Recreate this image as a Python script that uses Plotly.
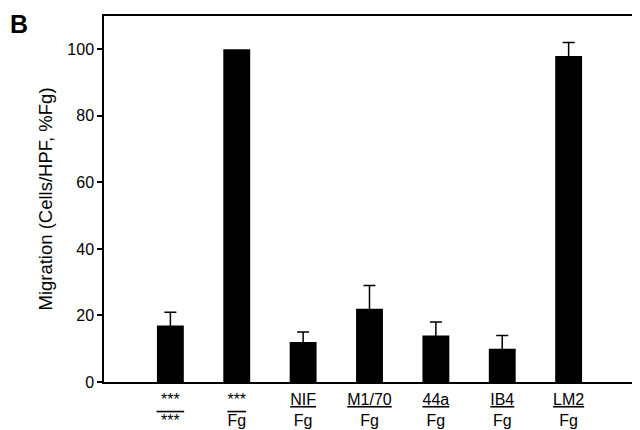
import plotly.graph_objects as go

# Migration toward fibrinogen, with blocking antibodies
labels = [
    "***<br><span style='text-decoration:overline'>&nbsp;***&nbsp;</span>",
    "***<br><span style='text-decoration:overline'>Fg</span>",
    "<u>NIF</u><br>Fg",
    "<u>M1/70</u><br>Fg",
    "<u>44a</u><br>Fg",
    "<u>IB4</u><br>Fg",
    "<u>LM2</u><br>Fg",
]
migration = [17, 100, 12, 22, 14, 10, 98]
sem = [4, None, 3, 7, 4, 4, 4]   # Fg control is the 100% reference, no error bar
positions = list(range(len(migration)))

font_name = "Liberation Sans, Arial, Helvetica, sans-serif"

# only the bars that have an error estimate
err_x = [p for p, s in zip(positions, sem) if s is not None]
err_y = [m for m, s in zip(migration, sem) if s is not None]
err_v = [s for s in sem if s is not None]

fig = go.Figure()
fig.add_trace(go.Bar(
    x=positions, y=migration, width=0.405,
    marker=dict(color="black", line=dict(width=0)),
))
fig.add_trace(go.Scatter(
    x=err_x, y=err_y, mode="markers",
    marker=dict(size=0.1, color="black", opacity=0),
    error_y=dict(type="data", array=err_v, symmetric=True,
                 color="black", thickness=1.5, width=6),
))

# page body adds an 8px offset, so the figure is a bit smaller than the window
fig.update_layout(
    width=632, height=422,
    margin=dict(l=96, r=3, t=8, b=48),
    paper_bgcolor="white", plot_bgcolor="white",
    font=dict(family=font_name, color="black", size=16),
    showlegend=False,
    xaxis=dict(range=[-1, 7], tickvals=positions, ticktext=labels,
               showgrid=False, zeroline=False, showline=True, mirror=True,
               linecolor="black", linewidth=1.5, ticks="", automargin=False,
               ticklabelstandoff=2, tickfont=dict(size=16)),
    yaxis=dict(range=[0, 110], tickvals=[0, 20, 40, 60, 80, 100],
               showgrid=False, zeroline=False, showline=True, mirror=True,
               linecolor="black", linewidth=1.5, ticks="outside", ticklen=5,
               tickwidth=1.5, tickcolor="black", tickfont=dict(size=16),
               title=dict(text="Migration (Cells/HPF, %Fg)", font=dict(size=18.5),
                          standoff=10)),
    annotations=[dict(text="<b>B</b>", x=-0.18, y=1.022, xref="paper", yref="paper",
                      xanchor="left", yanchor="top", showarrow=False,
                      font=dict(size=25))],
)

fig.write_html("out.html")
